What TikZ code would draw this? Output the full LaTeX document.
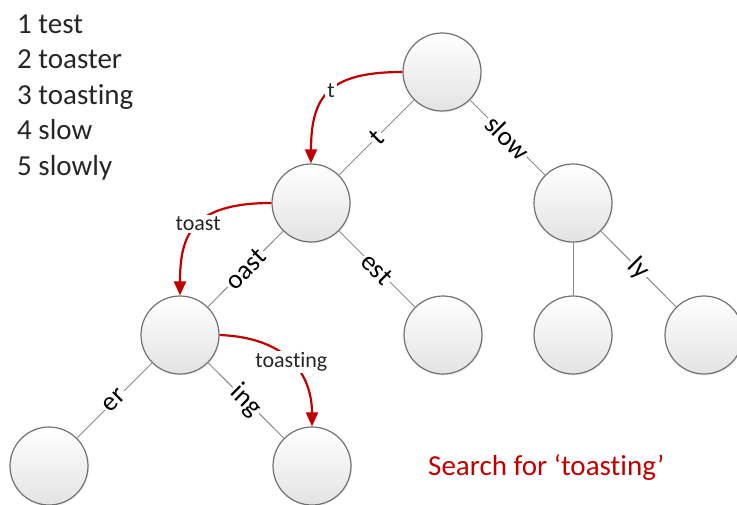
\documentclass[tikz,border=0pt]{standalone}
\usepackage{fontspec}
\setmainfont{Carlito}[Ligatures={TeX,NoCommon}]
\usetikzlibrary{arrows.meta,shadows}
\definecolor{srchred}{HTML}{C00000}
\definecolor{edgegray}{HTML}{8A8A8A}
\definecolor{ringgray}{HTML}{707070}
\tikzset{
  trienode/.style={circle, minimum size=78pt, inner sep=0pt, draw=ringgray, line width=1.2pt,
    top color=white, bottom color=black!11,
    drop shadow={opacity=0.12, shadow xshift=1pt, shadow yshift=-1.5pt}},
  trieedge/.style={draw=edgegray, line width=1pt},
  edgelabel/.style={fill=white, inner sep=2pt, sloped, midway, text=black, font=\fontsize{27}{30}\selectfont},
  searcharrow/.style={draw=srchred, line width=2.2pt, -{Triangle[length=14pt,width=12pt]}},
  searchlabel/.style={fill=white, inner sep=2pt, text=black!85, font=\fontsize{22}{26}\selectfont},
  listline/.style={anchor=base west, inner sep=0pt, text=black!85, font=\fontsize{29}{35}\selectfont}
}
\begin{document}
\begin{tikzpicture}[x=1pt,y=-1pt]
\useasboundingbox (0,0) rectangle (737,504);
% word list
\node[listline] (l1) at (17,33) {1 test};
\node[listline] (l2) at (17,68.5) {2 toaster};
\node[listline] (l3) at (17,104) {3 toasting};
\node[listline] (l4) at (17,139.5) {4 slow};
\node[listline] (l5) at (17,175) {5 slowly};
% trie nodes
\node[trienode] (root) at (442,72) {};
\node[trienode] (nt) at (311,203) {};
\node[trienode] (nslow) at (573,203) {};
\node[trienode] (noast) at (180,335) {};
\node[trienode] (nest) at (443,335) {};
\node[trienode] (nslowA) at (573,335) {};
\node[trienode] (nly) at (704,335) {};
\node[trienode] (ner) at (49,466) {};
\node[trienode] (ning) at (312,466) {};
% edges
\draw[trieedge] (root) -- (nt) node[edgelabel] {t};
\draw[trieedge] (root) -- (nslow) node[edgelabel] {slow};
\draw[trieedge] (nt) -- (noast) node[edgelabel] {oast};
\draw[trieedge] (nt) -- (nest) node[edgelabel] {est};
\draw[trieedge] (nslow) -- (nslowA);
\draw[trieedge] (nslow) -- (nly) node[edgelabel] {ly};
\draw[trieedge] (noast) -- (ner) node[edgelabel] {er};
\draw[trieedge] (noast) -- (ning) node[edgelabel] {ing};
% search path
\draw[searcharrow] (root.west) .. controls +(-73,0) and +(0,-68) .. (nt.north)
  node[searchlabel, pos=0.48] {t};
\draw[searcharrow] (nt.west) .. controls +(-80,0) and +(0,-60) .. (noast.north)
  node[searchlabel, pos=0.47] {toast};
\draw[searcharrow] (noast.east) .. controls +(75,3) and +(0,-45) .. (ning.north)
  node[searchlabel, pos=0.47] {toasting};
\node[anchor=base west, inner sep=0pt, text=srchred, font=\fontsize{29}{35}\selectfont] (cap) at (428,475) {Search for ‘toasting’};
\end{tikzpicture}
\end{document}
